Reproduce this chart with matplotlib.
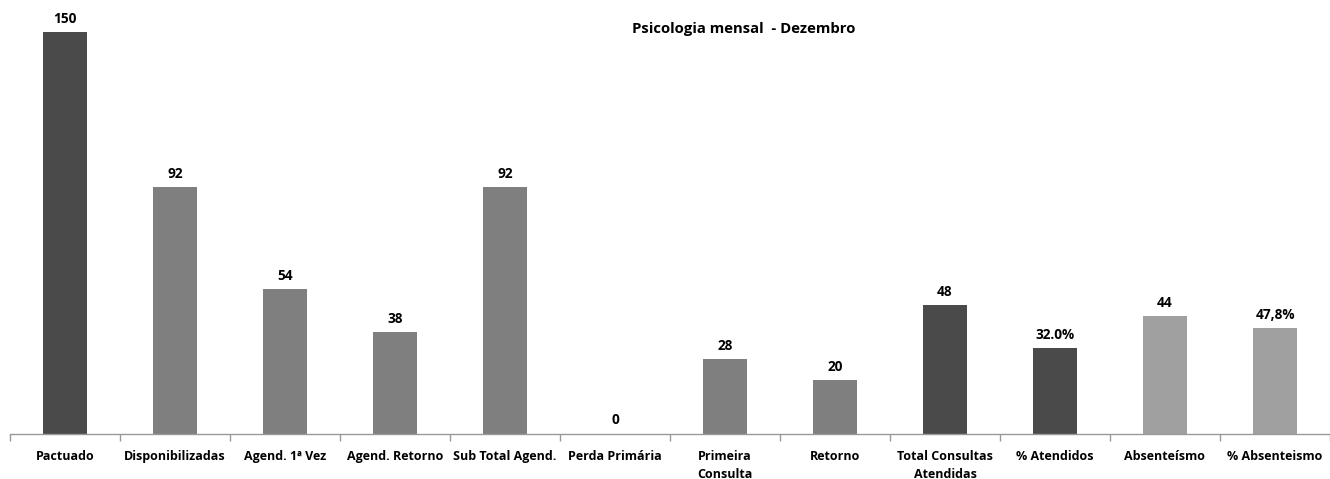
import matplotlib
matplotlib.use("Agg")
import matplotlib.pyplot as plt
import numpy as np

# ── Data ──────────────────────────────────────────────────────────────────────
categories = [
    "Pactuado", "Disponibilizadas", "Agend. 1ª Vez", "Agend. Retorno",
    "Sub Total Agend.", "Perda Primária", "Primeira\nConsulta", "Retorno",
    "Total Consultas\nAtendidas", "% Atendidos", "Absenteísmo", "% Absenteismo",
]
heights = [150, 92, 54, 38, 92, 0, 28, 20, 48, 32.0, 44, 39.5]
value_labels = ["150", "92", "54", "38", "92", "0", "28", "20", "48", "32.0%", "44", "47,8%"]

DARK = "#4a4a4a"
MID = "#7f7f7f"
LIGHT = "#a0a0a0"
colors = [DARK, MID, MID, MID, MID, MID, MID, MID, DARK, DARK, LIGHT, LIGHT]

plt.rcParams["font.family"] = ["Open Sans", "DejaVu Sans"]

W, H = 1330, 479
fig = plt.figure(figsize=(W / 100, H / 100), dpi=100)
ax = fig.add_axes([10 / W, (H - 433.5) / H, 1 - 10 / W, (433.5 - 32) / H])

x = np.arange(len(categories))
ax.bar(x, heights, width=0.4, color=colors, zorder=2)

ax.set_xlim(-0.5, len(categories) - 0.5)
ax.set_ylim(0, 150)

for xi, h, lab in zip(x, heights, value_labels):
    ax.annotate(lab, (xi, h), xytext=(0, 6), textcoords="offset pixels",
                ha="center", va="bottom", fontsize=9.8, fontweight="bold",
                annotation_clip=False)

# category boundaries as ticks, labels centred under bars
ax.set_xticks(np.arange(len(categories) + 1) - 0.5)
ax.set_xticklabels([])
ax.set_xticks(x, minor=True)
ax.set_xticklabels(categories, minor=True, fontsize=9, fontweight="bold",
                   linespacing=1.45)
ax.tick_params(axis="x", which="major", length=5, color="#999999", width=1)
ax.tick_params(axis="x", which="minor", length=0, pad=12)

ax.set_yticks([])
for side in ("top", "right", "left"):
    ax.spines[side].set_visible(False)
ax.spines["bottom"].set_color("#999999")
ax.spines["bottom"].set_linewidth(1)

fig.text(744 / W, 1 - 29 / H, "Psicologia mensal  - Dezembro", ha="center",
         va="center", fontsize=10.7, fontweight="bold")

fig.savefig("out.png", dpi=100)
